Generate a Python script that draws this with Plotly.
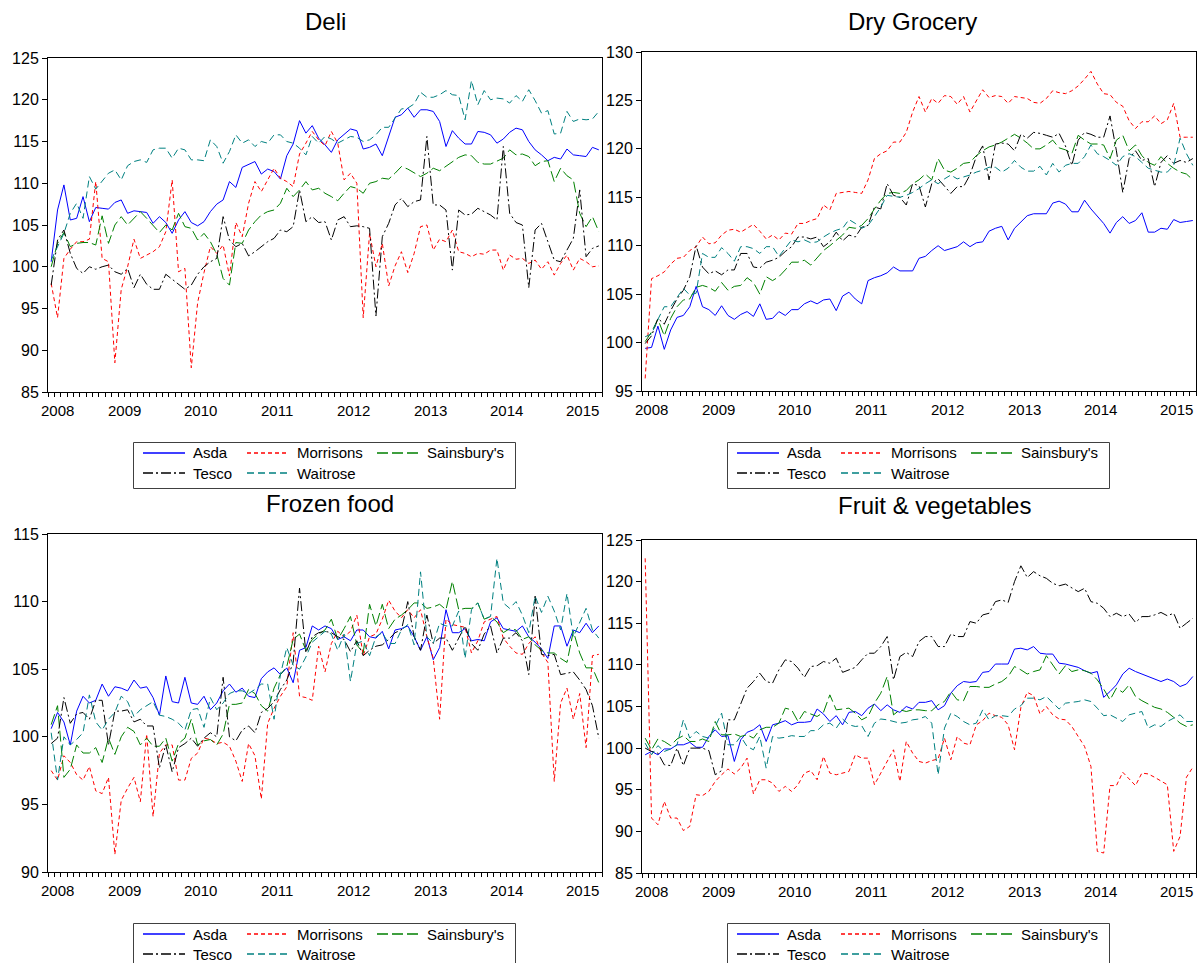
import plotly.graph_objects as go
import pandas as pd

W, H = 1197, 963
FONT = "Liberation Sans, Arial, Helvetica, sans-serif"

# ---- categories: monthly observations Jul 2008 .. Sep 2015 ----
months = pd.period_range("2008-07", "2015-09", freq="M")
years = sorted({p.year for p in months})
retailers = ["Asda", "Morrisons", "Sainsbury's", "Tesco", "Waitrose"]

# ---- Deli ----
deli_asda = [100.6, 106.8, 109.8, 105.6, 105.8, 108.4, 105.4, 107.1, 107.0, 106.9,
             107.7, 108.0, 106.4, 106.7, 106.6, 106.5, 105.2, 106.0, 105.3, 104.0,
             105.6, 106.6, 105.3, 104.9, 105.4, 106.6, 107.5, 108.0, 110.2, 109.5,
             111.9, 112.3, 112.6, 111.1, 111.7, 111.4, 110.5, 113.3, 114.7, 117.5,
             116.0, 116.9, 115.4, 114.6, 113.7, 115.2, 115.9, 116.5, 116.3, 114.1,
             114.3, 114.7, 113.3, 115.6, 117.9, 118.2, 119.0, 117.9, 118.8, 118.8,
             118.6, 117.4, 114.4, 116.3, 115.4, 114.7, 114.7, 116.2, 116.1, 115.8,
             114.8, 115.3, 116.1, 116.6, 116.4, 115.0, 114.0, 113.4, 112.7, 113.1,
             112.9, 114.1, 113.4, 113.3, 113.2, 114.3, 114.0]
deli_morrisons = [98.0, 93.9, 101.0, 102.1, 103.0, 103.0, 103.3, 110.2, 101.0, 100.6,
                  88.5, 97.3, 100.0, 103.3, 101.0, 101.4, 101.8, 102.4, 104.2, 110.4,
                  99.4, 99.8, 87.9, 95.7, 99.3, 102.4, 101.6, 102.6, 98.9, 105.3,
                  103.6, 107.6, 110.2, 109.0, 110.4, 111.8, 110.6, 110.2, 109.6, 113.5,
                  114.8, 116.2, 115.2, 114.5, 116.2, 114.8, 110.4, 111.2, 110.0, 93.9,
                  104.0, 100.0, 102.8, 97.7, 100.1, 101.8, 99.3, 101.6, 104.8, 105.0,
                  102.0, 103.3, 103.0, 104.4, 101.8, 101.6, 101.2, 101.6, 101.5, 102.0,
                  102.0, 99.6, 101.4, 100.9, 101.0, 100.4, 100.8, 99.7, 100.6, 99.0,
                  100.4, 101.4, 99.6, 101.0, 100.6, 100.0, 100.1]
deli_sainsburys = [100.0, 102.8, 104.1, 102.4, 102.8, 102.9, 102.9, 102.6, 106.1, 102.8,
                   105.0, 106.0, 105.0, 105.8, 106.6, 105.8, 105.0, 104.1, 105.0, 104.4,
                   106.4, 104.8, 104.6, 103.2, 104.0, 103.0, 101.5, 98.6, 97.8, 102.9,
                   102.8, 104.4, 105.4, 106.2, 106.6, 106.8, 107.6, 109.4, 108.4, 109.2,
                   110.2, 109.2, 109.4, 108.8, 108.4, 107.9, 108.8, 109.6, 109.4, 108.8,
                   110.0, 110.2, 110.6, 110.5, 111.2, 112.0, 111.7, 111.2, 110.8, 111.2,
                   111.8, 111.5, 112.0, 112.5, 113.1, 113.4, 113.3, 112.5, 112.3, 112.3,
                   112.7, 113.0, 114.0, 113.4, 113.5, 113.2, 112.1, 112.6, 112.7, 110.2,
                   111.8, 110.9, 110.4, 106.4, 104.8, 106.0, 104.2]
deli_tesco = [97.8, 103.2, 104.4, 101.6, 99.8, 99.2, 100.0, 99.7, 100.0, 100.2,
              99.4, 99.1, 99.8, 97.5, 99.1, 97.9, 97.3, 97.3, 99.1, 98.5,
              98.0, 97.3, 97.8, 99.1, 100.0, 100.6, 101.0, 106.0, 103.2, 102.4,
              102.8, 101.3, 101.8, 102.4, 103.0, 103.4, 104.4, 104.2, 104.8, 109.2,
              105.4, 106.0, 105.3, 105.4, 103.2, 105.6, 106.0, 104.8, 104.9, 104.8,
              104.6, 94.1, 103.6, 105.2, 107.4, 108.2, 107.2, 107.8, 108.0, 115.6,
              107.4, 107.4, 106.8, 99.6, 106.8, 106.2, 106.3, 107.0, 106.6, 106.2,
              105.6, 114.4, 106.4, 105.3, 105.0, 97.5, 104.4, 105.2, 103.0, 100.8,
              100.6, 102.0, 103.4, 109.2, 101.2, 102.2, 102.5]
deli_waitrose = [100.8, 102.4, 104.0, 106.4, 107.6, 105.8, 110.8, 109.3, 110.2, 111.2,
                 111.6, 110.4, 112.1, 112.6, 112.8, 112.5, 114.0, 114.2, 114.2, 113.0,
                 114.2, 114.0, 112.8, 112.8, 112.7, 115.2, 114.4, 112.4, 113.8, 115.8,
                 114.8, 115.2, 114.4, 115.0, 114.8, 115.8, 115.8, 115.0, 114.8, 114.2,
                 113.4, 115.6, 114.8, 115.6, 115.3, 114.8, 115.2, 115.6, 115.5, 115.0,
                 115.2, 115.8, 116.7, 116.7, 117.8, 118.9, 119.0, 119.5, 120.9, 120.3,
                 120.3, 120.6, 121.1, 120.6, 120.5, 117.6, 122.3, 119.4, 121.1, 120.0,
                 120.2, 120.1, 119.6, 120.5, 119.8, 121.2, 119.9, 118.4, 118.7, 115.9,
                 116.0, 118.6, 117.4, 117.7, 117.6, 117.7, 118.6]

# ---- Dry Grocery ----
dry_asda = [99.4, 99.5, 101.7, 99.3, 101.3, 102.6, 102.8, 103.7, 105.8, 103.7,
            103.4, 102.8, 103.8, 102.8, 102.4, 102.9, 103.2, 102.7, 104.0, 102.4,
            102.5, 103.2, 102.8, 103.4, 103.4, 104.0, 104.3, 104.0, 104.4, 104.5,
            103.3, 104.8, 105.2, 104.5, 104.0, 106.4, 106.7, 106.9, 107.2, 107.8,
            107.4, 107.4, 107.4, 108.7, 108.9, 109.5, 110.0, 109.5, 109.7, 109.9,
            110.4, 109.9, 110.3, 110.4, 111.5, 111.8, 112.0, 110.6, 111.8, 112.4,
            113.1, 113.3, 113.3, 113.3, 114.4, 114.6, 114.3, 113.5, 113.5, 114.7,
            113.8, 113.1, 112.3, 111.3, 112.4, 113.0, 112.3, 112.6, 113.4, 111.4,
            111.4, 111.8, 111.7, 112.7, 112.4, 112.5, 112.6]
dry_morrisons = [96.3, 106.6, 106.9, 107.3, 108.1, 108.7, 108.8, 109.5, 109.9, 110.9,
                 110.2, 110.3, 111.1, 111.6, 111.7, 111.4, 111.8, 112.2, 111.5, 110.7,
                 111.1, 110.6, 111.3, 111.2, 112.3, 112.3, 112.6, 112.8, 114.2, 113.7,
                 115.4, 115.5, 115.6, 115.5, 115.4, 116.8, 119.0, 119.5, 119.8, 120.7,
                 120.7, 121.7, 123.8, 125.4, 123.8, 125.2, 124.7, 125.5, 125.4, 124.6,
                 125.4, 123.8, 125.0, 126.1, 125.3, 125.5, 125.4, 124.7, 125.4, 125.3,
                 125.2, 124.8, 124.7, 125.2, 126.0, 125.8, 125.7, 126.0, 126.5, 127.2,
                 128.0, 126.7, 125.7, 125.6, 124.8, 124.4, 122.9, 122.1, 122.8, 122.8,
                 123.4, 122.6, 123.0, 124.7, 121.2, 121.2, 121.2]
dry_sainsburys = [100.1, 101.1, 102.4, 100.7, 102.5, 103.7, 104.4, 104.5, 105.7, 105.9,
                  105.7, 105.3, 106.2, 105.4, 105.8, 105.9, 106.7, 106.2, 105.0, 106.8,
                  106.4, 106.8, 107.5, 108.3, 108.3, 108.5, 108.0, 108.8, 109.5, 110.0,
                  110.6, 111.1, 111.9, 111.8, 112.1, 112.8, 113.8, 114.7, 115.4, 115.5,
                  115.4, 115.7, 116.4, 116.8, 117.4, 116.8, 119.0, 117.8, 117.6, 118.0,
                  118.5, 118.6, 119.3, 119.8, 120.2, 120.4, 120.7, 121.1, 121.5, 121.1,
                  120.6, 120.0, 120.0, 120.4, 120.9, 120.1, 119.9, 119.5, 121.4, 120.9,
                  120.5, 120.5, 120.4, 119.0, 120.9, 121.4, 119.8, 120.4, 119.3, 118.6,
                  118.3, 119.2, 118.5, 118.0, 117.6, 117.4, 116.8]
dry_tesco = [99.9, 100.7, 102.5, 101.9, 103.3, 104.5, 105.4, 106.8, 110.0, 107.8,
             107.1, 107.4, 107.0, 107.5, 107.5, 109.2, 109.2, 107.8, 107.7, 108.3,
             108.5, 108.8, 109.4, 109.9, 110.9, 110.9, 110.7, 110.9, 109.9, 110.4,
             111.4, 110.5, 111.1, 110.9, 111.9, 112.1, 114.0, 113.8, 116.4, 115.2,
             115.0, 114.2, 116.4, 116.2, 114.0, 116.4, 116.9, 116.1, 115.4, 116.1,
             116.1, 117.3, 119.2, 120.3, 116.8, 120.5, 120.6, 120.5, 119.8, 121.5,
             121.1, 121.7, 121.6, 121.4, 121.2, 121.6, 120.3, 118.3, 120.9, 121.7,
             121.5, 121.2, 121.2, 123.4, 119.8, 115.5, 119.0, 119.8, 118.8, 119.0,
             116.1, 118.6, 119.3, 118.5, 118.8, 118.6, 119.0]
dry_waitrose = [100.6, 100.9, 102.4, 103.7, 103.7, 104.7, 105.6, 104.9, 105.1, 109.2,
                108.8, 108.8, 109.8, 109.2, 108.4, 109.9, 109.9, 109.7, 109.2, 109.9,
                109.9, 108.9, 109.7, 110.6, 110.4, 110.6, 110.3, 110.4, 110.9, 111.3,
                111.6, 111.8, 112.7, 112.3, 111.8, 112.1, 113.0, 114.0, 115.2, 115.1,
                115.0, 115.2, 115.5, 115.9, 116.4, 116.8, 116.4, 116.9, 117.3, 116.9,
                117.1, 117.3, 117.6, 117.8, 118.1, 118.1, 117.6, 118.0, 118.8, 118.1,
                117.7, 117.7, 118.2, 117.3, 118.5, 117.6, 118.3, 118.5, 118.5, 119.2,
                120.4, 119.5, 119.2, 118.8, 118.3, 119.2, 119.5, 119.2, 118.6, 118.0,
                117.8, 117.6, 117.6, 118.3, 121.1, 119.5, 118.3]

# ---- Frozen food ----
frozen_asda = [100.6, 101.8, 101.1, 99.4, 101.9, 103.0, 102.5, 102.7, 103.9, 103.0,
               103.7, 103.6, 103.4, 104.2, 103.6, 103.7, 102.9, 101.6, 104.5, 102.6,
               102.5, 104.4, 102.5, 102.4, 103.0, 102.0, 102.5, 103.4, 103.9, 103.3,
               103.6, 103.0, 102.9, 104.3, 104.8, 105.1, 104.6, 105.1, 104.0, 106.4,
               106.6, 108.2, 107.9, 108.2, 108.0, 107.2, 107.4, 107.1, 107.9, 107.9,
               107.4, 107.3, 107.8, 106.5, 107.9, 108.0, 108.2, 107.4, 106.4, 107.4,
               105.7, 106.6, 109.4, 107.7, 107.7, 108.0, 107.1, 107.2, 107.1, 108.5,
               108.8, 108.0, 107.9, 107.8, 108.2, 107.4, 107.0, 106.5, 105.8, 108.2,
               108.2, 106.7, 107.9, 107.7, 108.4, 107.7, 108.2]
frozen_morrisons = [97.5, 96.8, 98.6, 98.1, 97.2, 96.8, 97.8, 96.0, 95.8, 97.0,
                    91.3, 95.3, 96.2, 97.0, 95.2, 100.2, 94.1, 98.8, 99.4, 99.4,
                    96.8, 96.8, 98.4, 98.8, 99.9, 99.8, 99.5, 99.6, 99.3, 98.2,
                    96.7, 99.5, 98.6, 95.4, 101.0, 102.1, 103.0, 103.7, 107.7, 103.0,
                    102.9, 102.7, 106.7, 104.8, 106.9, 107.8, 107.4, 107.8, 109.0, 106.0,
                    107.4, 107.6, 108.7, 110.1, 109.3, 108.8, 109.4, 108.8, 109.4, 107.4,
                    105.8, 101.3, 108.7, 108.3, 108.2, 108.1, 106.2, 107.1, 108.5, 108.7,
                    108.9, 107.3, 106.7, 106.2, 106.1, 106.9, 107.4, 106.2, 105.5, 96.7,
                    102.5, 103.6, 101.3, 103.2, 99.2, 106.0, 106.1]
frozen_sainsburys = [100.9, 102.3, 97.0, 97.6, 99.4, 98.8, 98.8, 99.2, 98.1, 99.9,
                     98.7, 100.0, 100.7, 100.4, 99.4, 99.9, 99.3, 99.3, 99.9, 98.2,
                     99.5, 99.9, 101.3, 99.4, 99.7, 99.8, 99.4, 100.2, 102.4, 102.4,
                     102.5, 103.5, 103.2, 102.3, 101.9, 103.6, 104.6, 105.2, 107.2, 107.6,
                     106.4, 107.2, 107.6, 107.9, 108.7, 107.2, 108.0, 108.9, 106.8, 106.2,
                     109.8, 108.2, 109.8, 108.0, 108.7, 109.0, 109.4, 109.9, 109.9, 109.5,
                     109.6, 109.8, 109.4, 111.5, 109.4, 109.5, 109.5, 109.9, 108.7, 108.9,
                     108.5, 107.7, 108.0, 107.9, 107.2, 107.4, 106.8, 106.4, 106.2, 106.2,
                     105.8, 105.5, 107.8, 106.2, 105.1, 105.1, 104.0]
frozen_tesco = [99.5, 99.9, 102.9, 101.0, 101.7, 101.8, 101.3, 102.7, 102.7, 99.4,
                101.9, 101.9, 102.0, 101.1, 101.3, 100.8, 100.8, 97.7, 99.4, 97.4,
                99.2, 99.5, 99.9, 99.3, 99.9, 100.3, 100.0, 104.4, 100.0, 99.7,
                100.5, 100.8, 100.3, 101.8, 102.1, 102.6, 103.5, 104.2, 105.5, 111.0,
                106.2, 107.4, 107.7, 107.8, 107.7, 107.4, 107.2, 106.3, 107.1, 106.0,
                106.4, 106.7, 106.8, 107.2, 107.7, 107.9, 110.0, 107.4, 106.4, 109.0,
                106.9, 107.3, 107.3, 106.4, 107.3, 108.2, 106.9, 106.4, 107.6, 108.2,
                106.2, 107.3, 107.3, 107.7, 107.1, 104.6, 110.4, 106.1, 106.0, 106.1,
                104.6, 104.7, 104.8, 104.2, 103.5, 102.3, 99.9]
frozen_waitrose = [100.3, 96.8, 100.0, 99.4, 99.8, 100.3, 103.1, 101.1, 100.5, 101.3,
                   101.8, 103.0, 102.6, 101.5, 102.0, 102.3, 102.6, 101.6, 101.5, 101.3,
                   101.0, 100.5, 102.0, 102.1, 100.7, 102.9, 102.0, 102.5, 103.2, 103.4,
                   103.4, 103.2, 103.5, 103.9, 103.9, 101.3, 104.6, 106.6, 105.3, 105.0,
                   105.9, 107.0, 107.4, 107.8, 107.6, 106.4, 107.6, 104.1, 106.9, 107.1,
                   106.0, 107.4, 107.7, 106.9, 106.9, 107.9, 108.3, 106.8, 112.2, 107.4,
                   106.9, 108.4, 108.2, 108.2, 109.3, 105.8, 109.4, 109.9, 108.7, 108.9,
                   113.2, 109.9, 109.5, 110.0, 109.0, 107.7, 110.4, 109.2, 110.4, 109.3,
                   107.9, 110.6, 107.4, 108.5, 109.5, 107.9, 107.3]

# ---- Fruit & vegetables ----
fruit_asda = [99.2, 99.6, 99.2, 99.9, 99.9, 100.4, 100.4, 100.7, 100.1, 100.1,
              101.4, 102.2, 101.4, 101.5, 98.4, 101.0, 101.9, 102.2, 102.8, 100.8,
              102.8, 103.0, 103.3, 102.8, 103.1, 103.1, 103.2, 104.7, 104.1, 103.2,
              103.9, 102.8, 104.3, 104.4, 103.9, 104.8, 105.3, 104.5, 105.2, 104.6,
              104.3, 105.0, 104.7, 105.5, 105.5, 105.7, 104.6, 105.1, 106.6, 107.5,
              108.0, 107.9, 108.0, 109.1, 109.2, 110.1, 110.1, 110.1, 111.9, 112.0,
              111.8, 112.2, 111.4, 111.3, 111.3, 110.2, 110.1, 109.9, 109.7, 109.3,
              109.0, 109.2, 106.1, 106.8, 107.6, 108.9, 109.6, 109.2, 108.9, 108.6,
              108.3, 108.0, 108.3, 108.0, 107.4, 107.7, 108.6]
fruit_morrisons = [122.8, 91.6, 90.8, 93.6, 91.6, 91.6, 90.1, 90.6, 94.4, 94.3,
                   94.8, 96.0, 96.8, 97.5, 96.9, 97.6, 98.8, 94.5, 96.2, 96.2,
                   95.8, 94.8, 95.4, 94.8, 95.6, 97.0, 97.3, 96.2, 99.0, 97.0,
                   96.8, 97.0, 97.2, 99.2, 98.8, 98.8, 95.6, 97.0, 98.4, 99.8,
                   96.0, 100.8, 99.4, 98.4, 98.2, 98.5, 98.7, 101.2, 98.6, 101.4,
                   100.6, 100.4, 102.8, 103.3, 104.2, 103.9, 103.7, 102.8, 99.8, 104.9,
                   106.7, 106.3, 104.1, 105.0, 104.0, 103.5, 103.4, 102.6, 101.4, 100.2,
                   97.8, 87.6, 87.4, 95.5, 95.5, 97.1, 96.3, 95.5, 97.0, 96.9,
                   96.5, 96.1, 95.6, 87.6, 89.4, 96.5, 97.7]
fruit_sainsburys = [101.2, 99.8, 101.1, 100.8, 100.3, 101.1, 101.5, 100.8, 100.8, 101.1,
                    100.8, 103.2, 101.6, 101.6, 101.7, 101.4, 101.6, 101.2, 102.2, 102.5,
                    102.5, 103.0, 104.8, 104.6, 103.2, 104.4, 104.1, 103.8, 104.3, 106.4,
                    104.6, 104.7, 104.8, 104.2, 103.4, 103.8, 105.4, 106.6, 108.6, 104.0,
                    104.6, 104.4, 104.6, 104.6, 104.5, 104.5, 105.2, 105.6, 106.8, 105.8,
                    105.7, 107.4, 107.4, 107.3, 107.3, 107.7, 108.0, 108.6, 109.8, 109.4,
                    108.9, 109.2, 109.4, 111.1, 110.0, 108.9, 109.9, 109.2, 109.4, 109.3,
                    109.0, 108.2, 107.1, 105.8, 107.2, 106.7, 107.6, 106.2, 105.7, 105.3,
                    104.9, 104.7, 104.3, 103.7, 103.0, 102.6, 102.8]
fruit_tesco = [100.0, 99.6, 99.4, 98.0, 97.9, 100.0, 97.9, 100.0, 100.0, 100.0,
               99.7, 96.8, 97.3, 103.4, 103.4, 105.4, 107.2, 108.0, 109.0, 108.0,
               107.8, 109.4, 110.6, 110.4, 109.6, 108.5, 109.8, 109.9, 110.4, 110.2,
               110.8, 109.1, 109.4, 109.7, 110.6, 111.4, 111.4, 112.2, 113.4, 108.2,
               111.0, 111.5, 111.0, 112.8, 113.4, 113.4, 112.2, 112.2, 113.7, 113.4,
               113.4, 115.2, 115.0, 116.0, 116.2, 117.6, 117.8, 117.5, 120.0, 121.9,
               120.5, 121.2, 120.7, 120.4, 119.8, 119.5, 119.7, 119.2, 118.8, 119.2,
               117.6, 117.4, 116.8, 115.8, 116.2, 115.8, 116.1, 115.1, 115.8, 115.8,
               116.0, 116.3, 115.9, 116.2, 114.4, 115.0, 115.6]
fruit_waitrose = [100.6, 99.2, 100.3, 99.6, 99.9, 100.4, 103.4, 101.2, 102.0, 101.4,
                  101.2, 102.6, 104.2, 100.4, 100.4, 101.4, 100.2, 99.8, 101.4, 97.6,
                  101.4, 101.2, 101.3, 101.5, 101.4, 101.4, 102.1, 102.1, 102.8, 103.0,
                  102.4, 103.5, 102.8, 102.6, 102.7, 101.4, 103.0, 103.5, 103.4, 103.2,
                  103.0, 103.1, 103.4, 103.5, 103.8, 103.0, 96.8, 102.4, 104.2, 103.8,
                  103.2, 102.8, 103.0, 104.6, 103.4, 103.9, 103.9, 103.8, 104.7, 105.1,
                  106.0, 106.0, 105.8, 106.2, 105.4, 104.7, 105.4, 105.5, 105.6, 105.8,
                  105.6, 104.8, 103.9, 104.0, 103.6, 103.2, 104.0, 104.2, 104.4, 102.4,
                  102.8, 102.6, 103.2, 103.6, 104.0, 103.2, 103.2]

panel_titles = ["Deli", "Dry Grocery", "Frozen food", "Fruit & vegetables"]
panel_series = [
    [deli_asda, deli_morrisons, deli_sainsburys, deli_tesco, deli_waitrose],
    [dry_asda, dry_morrisons, dry_sainsburys, dry_tesco, dry_waitrose],
    [frozen_asda, frozen_morrisons, frozen_sainsburys, frozen_tesco, frozen_waitrose],
    [fruit_asda, fruit_morrisons, fruit_sainsburys, fruit_tesco, fruit_waitrose],
]
panel_yranges = [(85, 125), (95, 130), (90, 115), (85, 125)]

# ---- styles / layout (pixels) ----
colors = ["rgb(0,0,255)", "rgb(255,0,0)", "rgb(0,128,0)", "rgb(0,0,0)", "rgb(0,128,128)"]
dashes = ["solid", "4px,3px", "11px,4px", "10px,3px,2px,3px", "7px,4px"]
frames = [(48, 602, 58, 392), (642, 1196, 52, 391), (48, 602, 534, 872), (642, 1196, 540, 873)]
title_pos = [(325, 22), (912, 22), (330, 504), (934, 505)]
legend_pos = [(133, 442), (727, 442), (133, 923), (727, 923)]
legend_cells = [(0, 0), (1, 0), (2, 0), (0, 1), (1, 1)]
legend_cols = [10, 114, 244]
legend_rows = [11, 31]


def px(xp):
    return xp / W


def py(yp):
    return 1 - yp / H


n = len(months)
x_idx = list(range(n))
first_year = years[0]
jan_index = {y: (y - first_year) * 12 - (months[0].month - 1) for y in years}
boundaries = [jan_index[y] - 0.5 for y in years if jan_index[y] > 0]
label_pos = {y: max(jan_index[y] + 5.5, 1.0) for y in years}

fig = go.Figure()
annotations = []

for k in range(4):
    sfx = "" if k == 0 else str(k + 1)
    xa, ya = "x" + sfx, "y" + sfx
    for name, vals, col, dsh in zip(retailers, panel_series[k], colors, dashes):
        fig.add_trace(go.Scatter(
            x=x_idx, y=vals, mode="lines", name=name, showlegend=False,
            line=dict(color=col, width=1, dash=dsh),
            xaxis=xa, yaxis=ya, hoverinfo="skip"))

    x0, x1, y0, y1 = frames[k]
    common = dict(showline=True, mirror=True, linecolor="black", linewidth=1,
                  showgrid=False, zeroline=False, automargin=False,
                  ticks="outside", tickcolor="black", tickwidth=1)
    fig.layout["xaxis" + sfx] = dict(
        domain=[px(x0), px(x1)], anchor=ya, range=[-0.5, n - 0.5],
        tickmode="array", tickvals=boundaries, ticktext=[""] * len(boundaries),
        showticklabels=False, ticklen=7,
        minor=dict(tickmode="linear", tick0=-0.5, dtick=1, ticks="outside",
                   ticklen=4, tickcolor="black", tickwidth=1, showgrid=False),
        **common)
    lo, hi = panel_yranges[k]
    fig.layout["yaxis" + sfx] = dict(
        domain=[py(y1), py(y0)], anchor=xa, range=[lo, hi],
        tickmode="linear", tick0=lo, dtick=5, ticklen=5,
        tickfont=dict(family=FONT, size=16, color="black"),
        **common)

    # year labels
    for y in years:
        annotations.append(dict(
            x=label_pos[y], xref=xa, y=py(y1 + 18), yref="paper",
            text=str(y), showarrow=False, xanchor="center", yanchor="middle",
            font=dict(family=FONT, size=15, color="black")))

    # panel title
    tx, ty = title_pos[k]
    annotations.append(dict(
        x=px(tx), y=py(ty), xref="paper", yref="paper", text=panel_titles[k],
        showarrow=False, xanchor="center", yanchor="middle",
        font=dict(family=FONT, size=24, color="black")))

    # legend box + entries on a full-figure pixel overlay axis
    lx, ly = legend_pos[k]
    fig.add_trace(go.Scatter(
        x=[lx + 0.5, lx + 382.5, lx + 382.5, lx + 0.5, lx + 0.5],
        y=[ly + 0.5, ly + 0.5, ly + 46.5, ly + 46.5, ly + 0.5],
        mode="lines", showlegend=False, line=dict(color="rgb(64,64,64)", width=1),
        xaxis="x5", yaxis="y5", hoverinfo="skip"))
    for (c, r), name, col, dsh in zip(legend_cells, retailers, colors, dashes):
        sx = lx + legend_cols[c]
        sy = ly + legend_rows[r]
        fig.add_trace(go.Scatter(
            x=[sx, sx + 42], y=[sy, sy], mode="lines", showlegend=False,
            line=dict(color=col, width=1.3, dash=dsh), xaxis="x5", yaxis="y5",
            hoverinfo="skip"))
        annotations.append(dict(
            x=px(sx + 48), y=py(sy), xref="paper", yref="paper", text=name,
            showarrow=False, xanchor="left", yanchor="middle",
            font=dict(family=FONT, size=15, color="black")))

fig.update_layout(
    width=W, height=H,
    margin=dict(l=0, r=0, t=0, b=0),
    paper_bgcolor="white", plot_bgcolor="rgba(0,0,0,0)",
    showlegend=False,
    annotations=annotations,
    font=dict(family=FONT, color="black"),
    xaxis5=dict(domain=[0, 1], range=[0, W], visible=False, fixedrange=True,
                anchor="y5", showgrid=False, zeroline=False),
    yaxis5=dict(domain=[0, 1], range=[H, 0], visible=False, fixedrange=True,
                anchor="x5", showgrid=False, zeroline=False),
)

fig.write_html("out.html")
